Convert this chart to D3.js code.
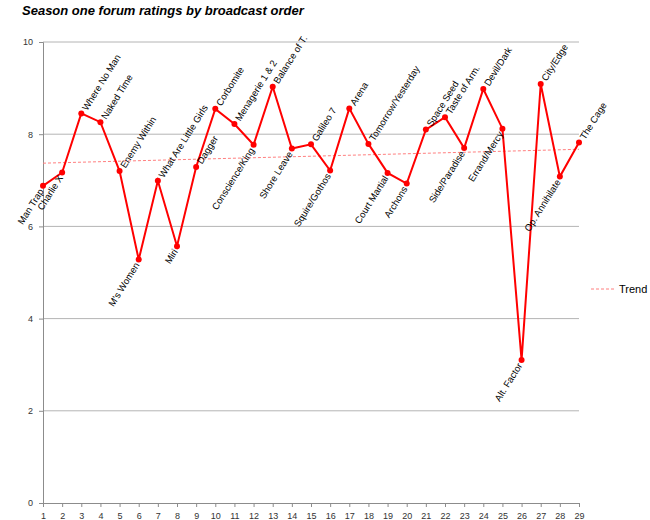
<!DOCTYPE html>
<html>
<head>
<meta charset="utf-8">
<script src="https://cdn.jsdelivr.net/npm/d3@7"></script>
<style>
  body { margin: 0; background: #fff; }
  svg { font-family: "Liberation Sans", Arial, sans-serif; }
</style>
</head>
<body>
<div id="chart"></div>
<script>
// episodes in broadcast order
const episodes = ['Man Trap', 'Charlie X', 'Where No Man', 'Naked Time', 'Enemy Within',
  "M's Women", 'What Are Little Girls', 'Miri', 'Dagger', 'Corbomite',
  'Menagerie 1 & 2', 'Conscience/King', 'Balance of T.', 'Shore Leave', 'Galileo 7',
  'Squire/Gothos', 'Arena', 'Tomorrow/Yesterday', 'Court Martial', 'Archons',
  'Space Seed', 'Taste of Arm.', 'Side/Paradise', 'Devil/Dark', 'Errand/Mercy',
  'Alt. Factor', 'City/Edge', 'Op. Annihilate', 'The Cage'];

const ratings = [6.88, 7.17, 8.45, 8.26, 7.20, 5.28, 6.99, 5.57, 7.29, 8.55,
  8.22, 7.77, 9.03, 7.69, 7.78, 7.21, 8.56, 7.79, 7.16, 6.93,
  8.10, 8.37, 7.70, 8.98, 8.12, 3.10, 9.09, 7.08, 7.82];

const yTicks = [0, 2, 4, 6, 8, 10];

// labels that hang below their point
const belowLabels = ['Man Trap', 'Charlie X', "M's Women", 'Miri', 'Conscience/King',
  'Shore Leave', 'Squire/Gothos', 'Court Martial', 'Archons', 'Side/Paradise',
  'Errand/Mercy', 'Alt. Factor', 'Op. Annihilate'];

const data = episodes.map((name, i) => ({ n: i + 1, name, v: ratings[i] }));

const width = 650, height = 520;
const svg = d3.select('#chart').append('svg')
  .attr('width', width).attr('height', height);

const x = d3.scaleLinear().domain([1, 29]).range([43, 579]);
const y = d3.scaleLinear().domain([0, 10]).range([503, 42]);

// title
svg.append('text')
  .attr('x', 22).attr('y', 15)
  .style('font-size', '13px').style('font-weight', 'bold').style('font-style', 'italic')
  .text('Season one forum ratings by broadcast order');

// gridlines
svg.append('g').selectAll('line')
  .data(yTicks.filter(d => d > 0))
  .join('line')
  .attr('x1', x(1)).attr('x2', x(29))
  .attr('y1', d => y(d)).attr('y2', d => y(d))
  .attr('stroke', '#b4b4b4').attr('stroke-width', 1);

// y axis
const yAxis = svg.append('g')
  .attr('transform', `translate(${x(1)},0)`)
  .call(d3.axisLeft(y).tickValues(yTicks).tickSize(4).tickPadding(6));
yAxis.select('.domain').attr('stroke', '#8c8c8c');
yAxis.selectAll('.tick line').attr('stroke', '#8c8c8c');
yAxis.selectAll('text').style('font-size', '9px').attr('fill', '#333');

// x axis
const xAxis = svg.append('g')
  .attr('transform', `translate(0,${y(0)})`)
  .call(d3.axisBottom(x).tickValues(d3.range(1, 30)).tickFormat(d3.format('d'))
    .tickSize(4).tickPadding(6).tickSizeOuter(0));
xAxis.select('.domain').attr('stroke', '#8c8c8c');
xAxis.selectAll('.tick line').attr('stroke', '#8c8c8c');
xAxis.selectAll('text').style('font-size', '9px').attr('fill', '#333');

// least squares trend
const mx = d3.mean(data, d => d.n), my = d3.mean(data, d => d.v);
const slope = d3.sum(data, d => (d.n - mx) * (d.v - my)) / d3.sum(data, d => (d.n - mx) ** 2);
const trend = n => my + slope * (n - mx);

svg.append('line')
  .attr('x1', x(1)).attr('x2', x(29))
  .attr('y1', y(trend(1))).attr('y2', y(trend(29)))
  .attr('stroke', '#ff7f7f').attr('stroke-width', 1)
  .attr('stroke-dasharray', '3,2');

// rating line
svg.append('path')
  .datum(data)
  .attr('fill', 'none')
  .attr('stroke', '#ff0000').attr('stroke-width', 2)
  .attr('d', d3.line().x(d => x(d.n)).y(d => y(d.v)));

svg.append('g').selectAll('circle')
  .data(data)
  .join('circle')
  .attr('cx', d => x(d.n)).attr('cy', d => y(d.v))
  .attr('r', 3).attr('fill', '#ff0000');

// episode labels
svg.append('g').selectAll('text')
  .data(data)
  .join('text')
  .attr('transform', d => `translate(${x(d.n)},${y(d.v)}) rotate(-58)`)
  .attr('x', d => belowLabels.includes(d.name) ? -4 : 5)
  .attr('dy', '0.4em')
  .attr('text-anchor', d => belowLabels.includes(d.name) ? 'end' : 'start')
  .style('font-size', '9.5px')
  .attr('fill', '#000')
  .text(d => d.name);

// legend
const legend = svg.append('g').attr('transform', 'translate(591,289)');
legend.append('line')
  .attr('x1', 0).attr('x2', 24)
  .attr('stroke', '#ff7f7f').attr('stroke-dasharray', '3,2');
legend.append('text')
  .attr('x', 28).attr('y', 4)
  .style('font-size', '11px')
  .text('Trend');
</script>
</body>
</html>
